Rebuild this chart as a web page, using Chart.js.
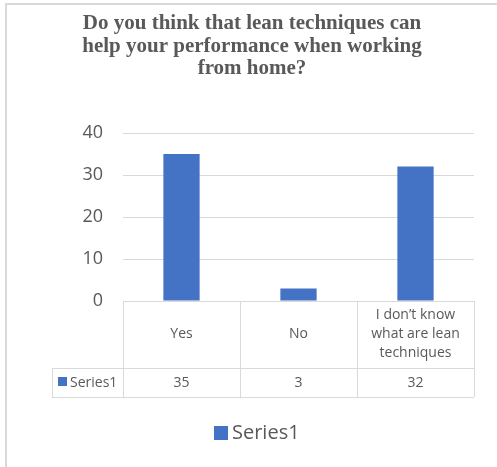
<!DOCTYPE html>
<html>
<head>
<meta charset="utf-8">
<script src="https://cdn.jsdelivr.net/npm/chart.js@4/dist/chart.umd.min.js"></script>
<style>
    body { margin: 0; background: #fff; }
    #wrap { width: 497px; height: 467px; }
</style>
</head>
<body>
<div id="wrap"><canvas id="surveyChart" width="497" height="467"></canvas></div>
<script>
// Chart data
const titleLines = ['Do you think that lean techniques can', 'help your performance when working', 'from home?'];
const categories = ['Yes', 'No', ['I don\u2019t know', 'what are lean', 'techniques']];
const seriesName = 'Series1';
const seriesValues = [35, 3, 32];
const yTicks = [0, 10, 20, 30, 40];

const textColor = '#595959';
const lineColor = '#d9d9d9';
const barColor = '#4472C4';

// Draws frame, title, data table and legend around the plot
const decorations = {
    id: 'decorations',
    afterDraw(chart) {
        const ctx = chart.ctx;
        const x = chart.scales.x;
        const area = chart.chartArea;
        const colW = x.width / categories.length;
        const top = area.bottom;
        const mid = top + 67;
        const bottom = mid + 29;
        const keyLeft = 52;

        ctx.save();

        // outer frame (top and left only visible)
        ctx.strokeStyle = lineColor;
        ctx.lineWidth = 2;
        ctx.beginPath();
        ctx.moveTo(6, 467);
        ctx.lineTo(6, 4);
        ctx.lineTo(497, 4);
        ctx.stroke();

        // title
        ctx.fillStyle = textColor;
        ctx.font = 'bold 21px "Liberation Serif"';
        ctx.textAlign = 'center';
        ctx.textBaseline = 'alphabetic';
        titleLines.forEach((line, i) => ctx.fillText(line, 252, 29 + i * 22.5));

        // table grid
        ctx.lineWidth = 1;
        ctx.beginPath();
        ctx.moveTo(keyLeft, mid + 0.5);
        ctx.lineTo(area.right, mid + 0.5);
        ctx.moveTo(keyLeft, bottom + 0.5);
        ctx.lineTo(area.right, bottom + 0.5);
        ctx.moveTo(keyLeft + 0.5, mid);
        ctx.lineTo(keyLeft + 0.5, bottom);
        for (let i = 0; i <= categories.length; i++) {
            const gx = Math.round(area.left + i * colW) + 0.5;
            ctx.moveTo(gx, top);
            ctx.lineTo(gx, bottom);
        }
        ctx.stroke();

        // table text
        ctx.font = '14px "Open Sans"';
        ctx.textBaseline = 'middle';
        ctx.fillStyle = textColor;
        categories.forEach((cat, i) => {
            const cx = x.getPixelForValue(i);
            const lines = Array.isArray(cat) ? cat : [cat];
            const lh = 19;
            const y0 = (top + mid) / 2 - (lines.length - 1) * lh / 2;
            lines.forEach((l, j) => ctx.fillText(l, cx, y0 + j * lh));
            ctx.fillText(String(seriesValues[i]), cx, (mid + bottom) / 2 + 1);
        });

        // series key in table
        ctx.fillStyle = barColor;
        ctx.fillRect(58, 377, 9, 9);
        ctx.fillStyle = textColor;
        ctx.textAlign = 'left';
        ctx.fillText(seriesName, 70, (mid + bottom) / 2 + 1);

        // legend
        ctx.fillStyle = barColor;
        ctx.fillRect(214, 426, 14, 14);
        ctx.fillStyle = textColor;
        ctx.font = '20px "Open Sans"';
        ctx.fillText(chart.data.datasets[0].label, 232, 433);

        ctx.restore();
    }
};

const ctx = document.getElementById('surveyChart').getContext('2d');
const surveyChart = new Chart(ctx, {
    type: 'bar',
    data: {
        labels: categories,
        datasets: [{
            label: seriesName,
            data: seriesValues,
            backgroundColor: barColor,
            categoryPercentage: 1,
            barPercentage: 0.31
        }]
    },
    options: {
        responsive: false,
        animation: false,
        layout: { padding: { top: 133, right: 23, bottom: 166, left: 0 } },
        plugins: {
            legend: { display: false },
            title: { display: false },
            tooltip: { enabled: false }
        },
        scales: {
            x: { display: false },
            y: {
                min: yTicks[0],
                max: yTicks[yTicks.length - 1],
                afterFit(scale) { scale.width = 123; },
                afterBuildTicks(scale) { scale.ticks = yTicks.map(v => ({ value: v })); },
                border: { display: false },
                grid: { color: lineColor, lineWidth: 1, drawTicks: false },
                ticks: {
                    color: textColor,
                    font: { family: 'Open Sans', size: 18 },
                    padding: 20
                }
            }
        }
    },
    plugins: [decorations]
});
</script>
</body>
</html>
